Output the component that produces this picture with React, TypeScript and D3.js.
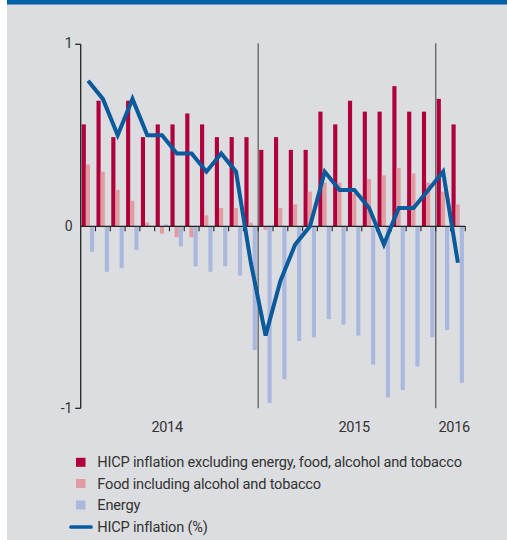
import React from "react";
import * as d3 from "d3";

const months = [
  "Jan 2014","Feb 2014","Mar 2014","Apr 2014","May 2014","Jun 2014","Jul 2014","Aug 2014","Sep 2014","Oct 2014","Nov 2014","Dec 2014",
  "Jan 2015","Feb 2015","Mar 2015","Apr 2015","May 2015","Jun 2015","Jul 2015","Aug 2015","Sep 2015","Oct 2015","Nov 2015","Dec 2015",
  "Jan 2016","Feb 2016",
];
const core = [0.56,0.69,0.49,0.69,0.49,0.56,0.56,0.62,0.56,0.49,0.49,0.49, 0.42,0.49,0.42,0.42,0.63,0.56,0.69,0.63,0.63,0.77,0.63,0.63, 0.70,0.56];
const food = [0.34,0.30,0.20,0.14,0.02,-0.04,-0.06,-0.06,0.06,0.10,0.10,0.02, -0.02,0.10,0.12,0.19,0.24,0.24,0.18,0.26,0.28,0.32,0.29,0.24, 0.19,0.12];
const energy = [-0.14,-0.25,-0.23,-0.13,0.0,0.01,-0.11,-0.22,-0.25,-0.22,-0.27,-0.68, -0.97,-0.84,-0.63,-0.61,-0.51,-0.54,-0.60,-0.76,-0.94,-0.90,-0.77,-0.61, -0.57,-0.86];
const hicp = [0.8,0.7,0.5,0.7,0.5,0.5,0.4,0.4,0.3,0.4,0.3,-0.2, -0.6,-0.3,-0.1,0.0,0.3,0.2,0.2,0.1,-0.1,0.1,0.1,0.2, 0.3,-0.2];
const yTicks = [1, 0, -1];
const years = ["2014", "2015", "2016"];
const yearLabelPos = [5.84, 18.49, 25.25];
const yearBreaks = [12, 24];
const legendLabels = [
  "HICP inflation excluding energy, food, alcohol and tobacco",
  "Food including alcohol and tobacco",
  "Energy",
  "HICP inflation (%)",
];

const C_CORE = "#b0003c";
const C_FOOD = "#e09ca1";
const C_ENERGY = "#aab8de";
const C_LINE = "#0a5a9c";
const BG = "#dcdde0";
const TXT = "#333";
const FONT = "Roboto, 'Liberation Sans', sans-serif";

export default function App() {
  const W = 507, H = 540;
  const x = d3.scaleLinear().domain([0, months.length]).range([80.7, 465.3]);
  const y = d3.scaleLinear().domain([-1, 1]).range([408.3, 44.3]);
  const bw = 4.15;
  const offs = [1, 1 + bw, 1 + 2 * bw];
  const series = [core, food, energy];
  const colors = [C_CORE, C_FOOD, C_ENERGY];
  const line = d3.line<number>().x((_, i) => x(i + 0.5)).y((d) => y(d));
  const legendY = [462.3, 483.5, 505, 527];

  return (
    <svg width={W} height={H} style={{ position: "absolute", left: 0, top: 0 }} fontFamily={FONT}>
      <rect x={0} y={0} width={W} height={H} fill="#fff" />
      <rect x={7} y={0} width={W - 7} height={H} fill={BG} />
      <rect x={7} y={0} width={W - 7} height={4.5} fill="#0061ab" />

      {yearBreaks.map((b) => (
        <line key={b} x1={x(b)} x2={x(b)} y1={43.3} y2={408.3} stroke="#6a6a6a" strokeWidth={1.4} />
      ))}

      {series.map((s, si) =>
        s.map((v, i) => (
          <rect
            key={si + "-" + i}
            x={x(i) + offs[si]}
            width={bw}
            y={Math.min(y(v), y(0))}
            height={Math.abs(y(v) - y(0))}
            fill={colors[si]}
          />
        ))
      )}

      <line x1={x(0)} x2={x(months.length)} y1={y(0)} y2={y(0)} stroke="#222" strokeWidth={1.3} />
      {d3.range(1, months.length + 1).map((i) => (
        <line key={i} x1={x(i)} x2={x(i)} y1={y(0)} y2={y(0) + 5} stroke="#222" strokeWidth={1.1} />
      ))}

      <line x1={x(0)} x2={x(0)} y1={y(1)} y2={y(-1)} stroke="#222" strokeWidth={1.3} />
      {yTicks.map((t) => (
        <g key={t}>
          {t !== 0 && <line x1={x(0) - 5.5} x2={x(0)} y1={y(t)} y2={y(t)} stroke="#222" strokeWidth={1.3} />}
          <text x={72.5} y={y(t) - (t === 1 ? 1.5 : 0)} dy="0.35em" textAnchor="end" fontSize={14} fill={TXT}>
            {t}
          </text>
        </g>
      ))}

      <path d={line(hicp) || ""} fill="none" stroke={C_LINE} strokeWidth={4} strokeLinejoin="miter" />

      {years.map((yr, i) => (
        <text key={yr} x={x(yearLabelPos[i])} y={431.5} textAnchor="middle" fontSize={14.5} letterSpacing={-0.3} fill={TXT}>
          {yr}
        </text>
      ))}

      {legendLabels.map((lab, i) => (
        <g key={lab}>
          {i < 3 ? (
            <rect x={76} y={legendY[i] - 4.5} width={9.5} height={9} fill={colors[i]} />
          ) : (
            <line x1={71} x2={91} y1={legendY[i]} y2={legendY[i]} stroke={C_LINE} strokeWidth={3.7} strokeLinecap="round" />
          )}
          <text x={97.3} y={legendY[i]} dy="0.35em" fontSize={14.6} letterSpacing={-0.2} fill={TXT}>
            {lab}
          </text>
        </g>
      ))}
    </svg>
  );
}
